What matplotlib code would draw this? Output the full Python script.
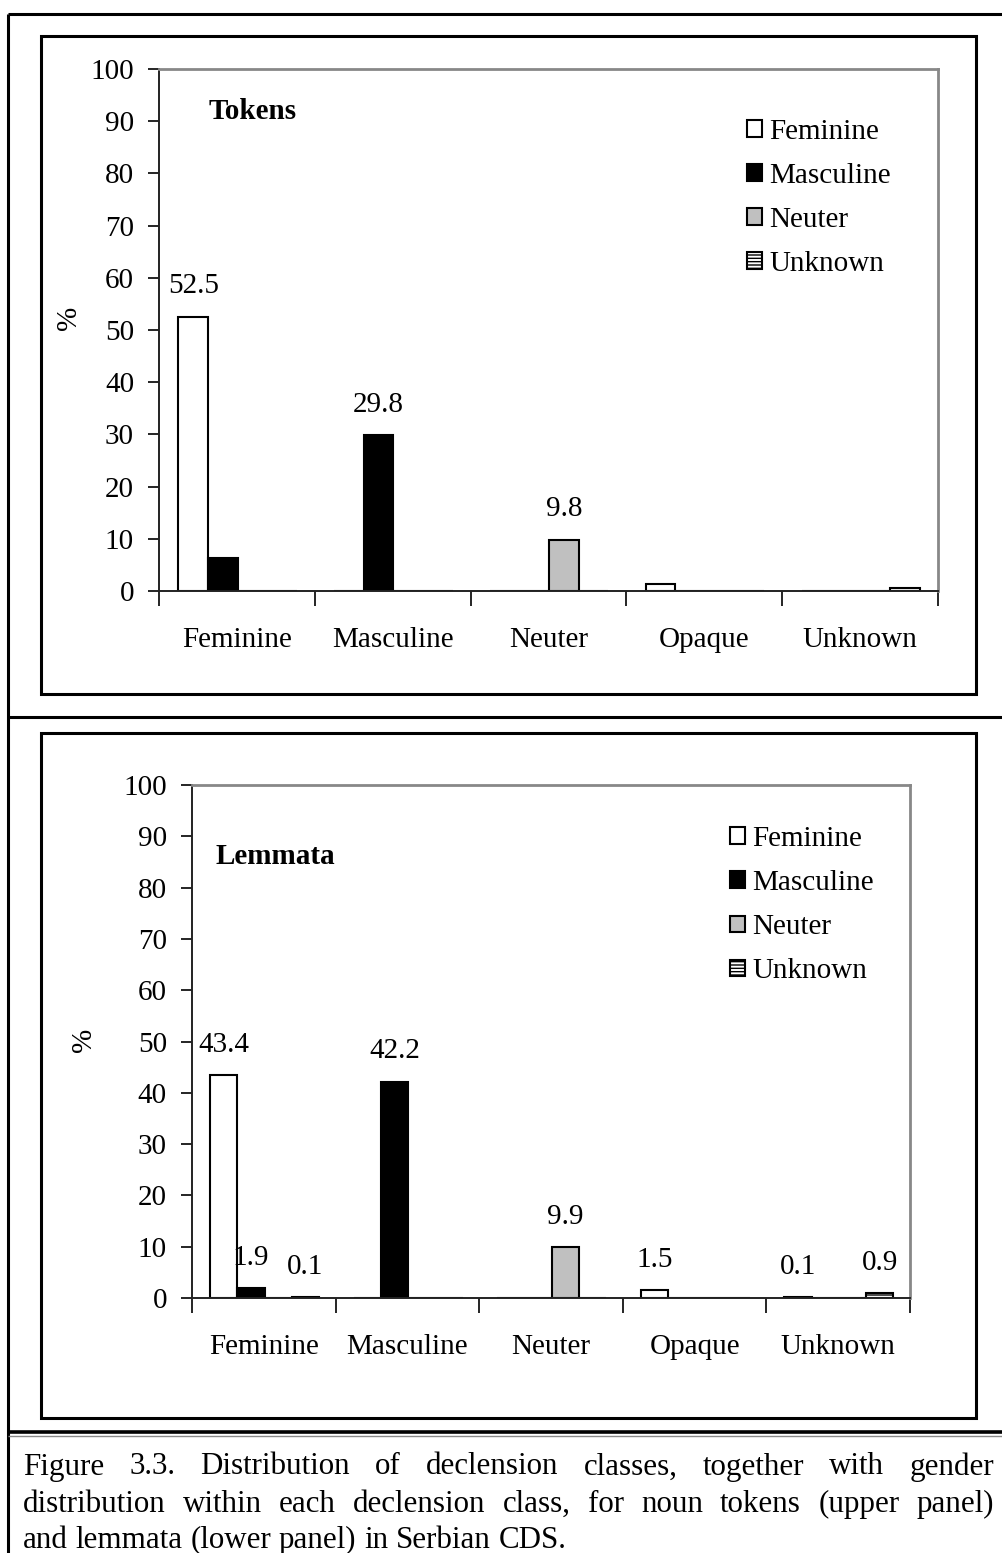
import matplotlib
matplotlib.use('Agg')
import matplotlib.pyplot as plt
from matplotlib.lines import Line2D
from matplotlib.patches import Rectangle
import numpy as np

# declension classes on the x axis, genders as the bar series
classes = ['Feminine', 'Masculine', 'Neuter', 'Opaque', 'Unknown']
genders = ['Feminine', 'Masculine', 'Neuter', 'Unknown']

tokens_fem = [52.5, 0, 0, 1.4, 0]
tokens_masc = [6.4, 29.8, 0, 0, 0]
tokens_neut = [0, 0, 9.8, 0, 0]
tokens_unk = [0, 0, 0, 0, 0.5]
# (gender, class) pairs that carry a value label in the upper panel
tokens_labelled = [(0, 0), (1, 1), (2, 2)]

lemmata_fem = [43.4, 0, 0, 1.5, 0.1]
lemmata_masc = [1.9, 42.2, 0, 0, 0]
lemmata_neut = [0, 0, 9.9, 0, 0]
lemmata_unk = [0.1, 0, 0, 0, 0.9]
lemmata_labelled = [(0, 0), (1, 0), (3, 0), (1, 1), (2, 2), (0, 3), (0, 4), (3, 4)]

yticks = list(range(0, 101, 10))

caption_lines = [
    'Figure 3.3. Distribution of declension classes, together with gender',
    'distribution within each declension class, for noun tokens (upper panel)',
    'and lemmata (lower panel) in Serbian CDS.',
]

plt.rcParams['font.family'] = ['Liberation Serif', 'DejaVu Serif']
plt.rcParams['hatch.linewidth'] = 1.0

W, H = 1003, 1553
fig = plt.figure(figsize=(W / 100, H / 100), dpi=100)


def fx(x):
    return x / W


def fy(y):
    return 1 - y / H


def hline(y, x0, x1, lw=2.0, color='black'):
    fig.add_artist(Line2D([fx(x0), fx(x1)], [fy(y), fy(y)], lw=lw, color=color,
                          transform=fig.transFigure, solid_capstyle='butt'))


def vline(x, y0, y1, lw=2.0, color='black'):
    fig.add_artist(Line2D([fx(x), fx(x)], [fy(y0), fy(y1)], lw=lw, color=color,
                          transform=fig.transFigure, solid_capstyle='butt'))


def box(x0, y0, x1, y1, lw=2.2):
    fig.add_artist(Rectangle((fx(x0), fy(y1)), fx(x1) - fx(x0), fy(y0) - fy(y1),
                             transform=fig.transFigure, fill=False, lw=lw,
                             edgecolor='black'))


# outer table lines
hline(14, 8, W, lw=2.2)
vline(8, 14, H, lw=2.2)
hline(717, 8, W, lw=2.2)
hline(1432, 8, W, lw=2.6)
hline(1436, 8, W, lw=1.0, color='#888888')

# panel frames
box(41, 36, 976, 694)
box(41, 733, 976, 1418)

colors = ['white', 'black', '#c0c0c0', 'white']
hatches = [None, None, None, '-----']


def panel(rect, series, labelled, title, title_pos, leg_pos, ylab_pos):
    ax = fig.add_axes(rect)
    x = np.arange(len(classes))
    width = 0.19
    for j, vals in enumerate(series):
        ax.bar(x + 0.22 + width * j, vals, width, color=colors[j],
               edgecolor='black', linewidth=1.5, hatch=hatches[j],
               label=genders[j])
    for j, i in labelled:
        v = series[j][i]
        ax.annotate(f'{v:.1f}', (i + 0.22 + width * j, v), xytext=(0, 22),
                    textcoords='offset points', ha='center', va='center',
                    fontsize=21)
    ax.set_xlim(0, len(classes))
    ax.set_ylim(0, 100)
    ax.set_yticks(yticks)
    ax.set_xticks(np.arange(len(classes) + 1))
    ax.set_xticklabels([])
    ax.set_xticks(x + 0.5, minor=True)
    ax.set_xticklabels(classes, minor=True, fontsize=21)
    ax.tick_params(axis='x', which='minor', length=0, pad=26)
    ax.tick_params(axis='x', which='major', length=11, width=1.2, direction='out')
    ax.tick_params(axis='y', length=8, width=1.2, direction='out', pad=10,
                   labelsize=21)
    for s in ['top', 'right']:
        ax.spines[s].set_color('#888888')
        ax.spines[s].set_linewidth(2.0)
    for s in ['left', 'bottom']:
        ax.spines[s].set_color('#222222')
        ax.spines[s].set_linewidth(1.4)
    ax.set_ylabel('%', fontsize=21)
    ax.yaxis.set_label_coords(*ylab_pos)
    ax.text(title_pos[0], title_pos[1], title, transform=ax.transAxes,
            fontsize=21, fontweight='bold', va='center', ha='left')
    ax.legend(loc='upper left', bbox_to_anchor=leg_pos, frameon=False,
              fontsize=21, handlelength=0.5, handleheight=0.5,
              handletextpad=0.25, labelspacing=0.62, borderpad=0,
              borderaxespad=0)
    return ax


ax1 = panel([fx(159), fy(591), fx(938) - fx(159), fy(69) - fy(591)],
            [tokens_fem, tokens_masc, tokens_neut, tokens_unk],
            tokens_labelled, 'Tokens', (0.063, 0.918), (0.755, 0.905),
            (-0.099, 0.523))
ax2 = panel([fx(192), fy(1298), fx(910) - fx(192), fy(785) - fy(1298)],
            [lemmata_fem, lemmata_masc, lemmata_neut, lemmata_unk],
            lemmata_labelled, 'Lemmata', (0.033, 0.86), (0.75, 0.92),
            (-0.132, 0.503))

# caption, justified like the original
fig.canvas.draw()
renderer = fig.canvas.get_renderer()
cap_left, cap_right = 23, 994
cap_y = [1467, 1504, 1540]
cap_fs = 22.3
for k, line in enumerate(caption_lines):
    words = line.split()
    texts = [fig.text(0, fy(cap_y[k]), w, fontsize=cap_fs, va='center', ha='left')
             for w in words]
    widths = [t.get_window_extent(renderer).width for t in texts]
    if k < len(caption_lines) - 1:
        gap = (cap_right - cap_left - sum(widths)) / (len(words) - 1)
    else:
        gap = 0.25 * cap_fs * 100 / 72
    xpos = cap_left
    for t, w in zip(texts, widths):
        t.set_x(fx(xpos))
        xpos += w + gap

fig.savefig('out.png', dpi=100)
